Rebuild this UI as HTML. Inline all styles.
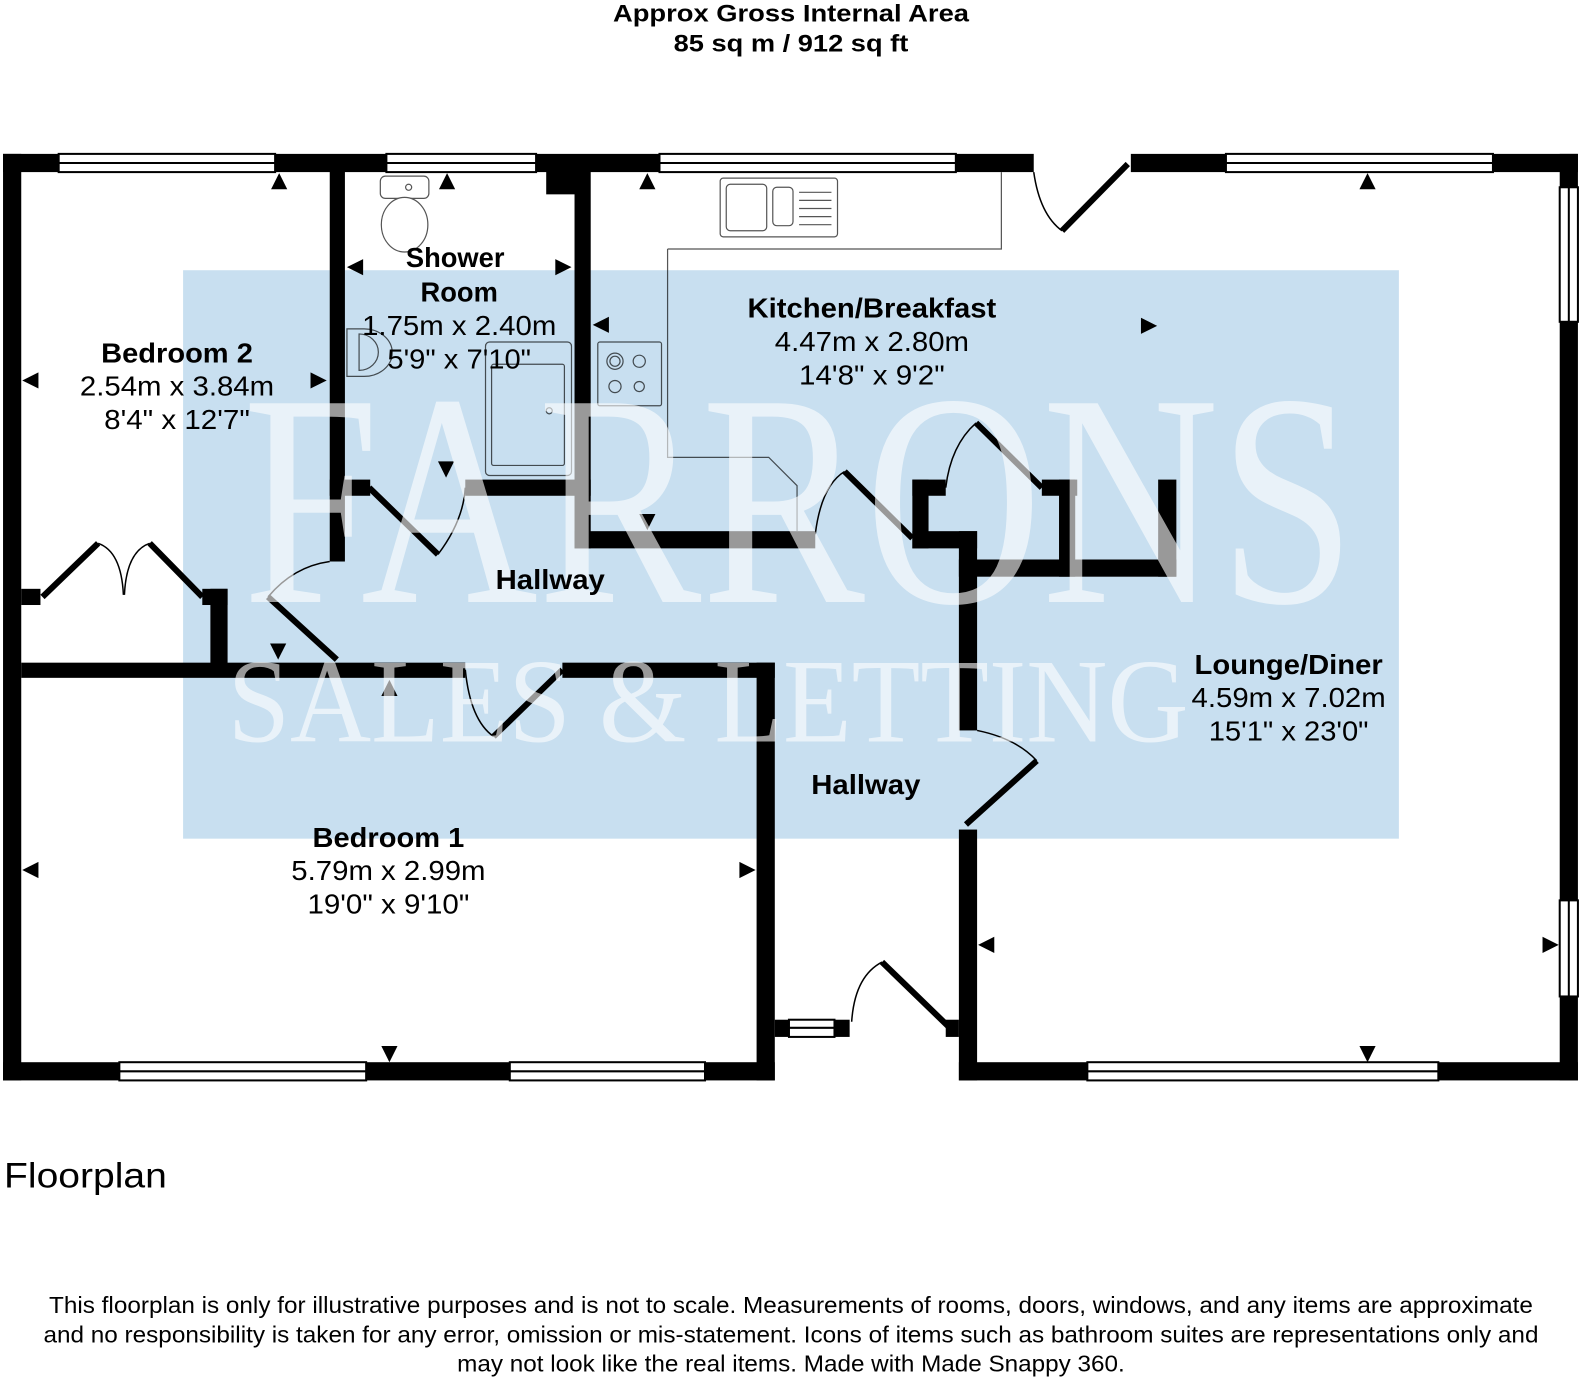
<!DOCTYPE html>
<html><head><meta charset="utf-8"><style>
html,body{margin:0;padding:0;background:#fff}
svg{display:block}
.s{font-family:"Liberation Sans",Arial,sans-serif}
.w{font-family:"Liberation Serif","DejaVu Serif",serif}
</style></head><body>
<svg width="1585" height="1384" viewBox="0 0 1567 1368" xmlns="http://www.w3.org/2000/svg">
<rect width="1567" height="1368" fill="#fff"/>
<g class="s">
<text x="782" y="21" text-anchor="middle" font-size="24" font-weight="bold" textLength="352" lengthAdjust="spacingAndGlyphs">Approx Gross Internal Area</text>
<text x="782" y="51" text-anchor="middle" font-size="24" font-weight="bold" textLength="232" lengthAdjust="spacingAndGlyphs">85 sq m / 912 sq ft</text>
</g>

<g fill="#000">
<rect x="3" y="152" width="1019" height="18"/>
<rect x="1118" y="152" width="442" height="18"/>
<rect x="3" y="152" width="18" height="916"/>
<rect x="1542" y="152" width="18" height="916"/>
<rect x="3" y="1050" width="763" height="18"/>
<rect x="948" y="1050" width="612" height="18"/>
<rect x="748" y="655" width="18" height="413"/>
<rect x="948" y="820" width="18" height="248"/>
<rect x="766" y="1008" width="74" height="17"/>
<rect x="935" y="1008" width="13" height="17"/>
<rect x="326" y="160" width="15" height="395"/>
<rect x="568" y="160" width="16" height="382"/>
<rect x="540" y="160" width="30" height="32"/>
<rect x="326" y="474" width="40" height="16"/>
<rect x="460" y="474" width="124" height="16"/>
<rect x="568" y="525" width="238" height="17"/>
<rect x="902" y="474" width="16" height="68"/>
<rect x="902" y="474" width="33" height="16"/>
<rect x="902" y="525" width="64" height="17"/>
<rect x="948" y="525" width="18" height="197"/>
<rect x="1030" y="474" width="35" height="16"/>
<rect x="1047" y="474" width="16" height="96"/>
<rect x="948" y="553" width="215" height="17"/>
<rect x="1145" y="474" width="18" height="96"/>
<rect x="21" y="655" width="439" height="15"/>
<rect x="556" y="655" width="210" height="15"/>
<rect x="21" y="582" width="19" height="16"/>
<rect x="200" y="582" width="25" height="16"/>
<rect x="208" y="582" width="17" height="80"/>
</g>

<g fill="#fff" stroke="#000" stroke-width="2">
<rect x="58" y="152" width="214" height="18"/><line x1="58" y1="161" x2="272" y2="161"/>
<rect x="382" y="152" width="148" height="18"/><line x1="382" y1="161" x2="530" y2="161"/>
<rect x="652" y="152" width="293" height="18"/><line x1="652" y1="161" x2="945" y2="161"/>
<rect x="1212" y="152" width="264" height="18"/><line x1="1212" y1="161" x2="1476" y2="161"/>
<rect x="118" y="1050" width="244" height="18"/><line x1="118" y1="1059" x2="362" y2="1059"/>
<rect x="504" y="1050" width="193" height="18"/><line x1="504" y1="1059" x2="697" y2="1059"/>
<rect x="1075" y="1050" width="347" height="18"/><line x1="1075" y1="1059" x2="1422" y2="1059"/>
<rect x="1542" y="185" width="18" height="133"/><line x1="1551" y1="185" x2="1551" y2="318"/>
<rect x="1542" y="890" width="18" height="95"/><line x1="1551" y1="890" x2="1551" y2="985"/>
<rect x="780" y="1008" width="45" height="17"/><line x1="780" y1="1016" x2="825" y2="1016"/>
</g>

<g stroke="#000" stroke-width="6" fill="none">
<line x1="1115" y1="162" x2="1050" y2="228"/>
<line x1="365" y1="482" x2="433" y2="548"/>
<line x1="265" y1="590" x2="333" y2="652"/>
<line x1="488" y1="728" x2="556" y2="662"/>
<line x1="835" y1="466" x2="902" y2="532"/>
<line x1="965" y1="418" x2="1030" y2="482"/>
<line x1="955" y1="815" x2="1025" y2="752"/>
<line x1="872" y1="951" x2="938" y2="1015"/>
<line x1="42" y1="590" x2="97" y2="537"/>
<line x1="200" y1="590" x2="148" y2="537"/>
</g>
<g stroke="#000" stroke-width="1.5" fill="none">
<path d="M1022 170 Q1028 212 1050 228"/>
<path d="M433 548 Q458 515 460 482"/>
<path d="M265 590 Q290 560 326 555"/>
<path d="M460 662 Q465 712 488 728"/>
<path d="M806 528 Q812 480 835 466"/>
<path d="M935 482 Q940 440 965 418"/>
<path d="M966 722 Q1005 730 1025 752"/>
<path d="M842 1010 Q845 965 872 951"/>
<path d="M97 537 Q120 545 122 588"/>
<path d="M148 537 Q125 545 123 588"/>
</g>

<g stroke="#555" stroke-width="1.2" fill="#fff">
<path d="M660 246 H990 V170 M660 246 V452 H760 L788 480 V525" fill="none"/>
<rect x="712" y="176" width="116" height="58" rx="3"/>
<rect x="718" y="182" width="40" height="46" rx="4"/>
<rect x="764" y="185" width="20" height="38" rx="4"/>
<g><line x1="790" y1="190" x2="822" y2="190"/><line x1="790" y1="198" x2="822" y2="198"/><line x1="790" y1="206" x2="822" y2="206"/><line x1="790" y1="214" x2="822" y2="214"/><line x1="790" y1="222" x2="822" y2="222"/></g>
<rect x="591" y="338" width="63" height="63" rx="2"/>
<circle cx="608" cy="357" r="8"/><circle cx="608" cy="357" r="5"/><circle cx="632" cy="357" r="6"/>
<circle cx="608" cy="382" r="6"/><circle cx="632" cy="382" r="5"/>
<rect x="480" y="338" width="85" height="132" rx="4"/>
<rect x="486" y="360" width="72" height="100" rx="2"/>
<circle cx="543" cy="406" r="3"/>
<rect x="376" y="174" width="48" height="22" rx="5"/>
<ellipse cx="400" cy="222" rx="23" ry="27"/>
<circle cx="404" cy="185" r="3"/>
<path d="M343 325 H360 A26 22 0 0 1 360 372 H343 Z"/>
<path d="M355 330 A18 17 0 0 1 355 366 Z"/>
</g>

<g fill="#000">
<polygon points="268,187 284,187 276,171"/>
<polygon points="434,187 450,187 442,171"/>
<polygon points="632,187 648,187 640,171"/>
<polygon points="1344,187 1360,187 1352,171"/>
<polygon points="343,264 359,256 359,272"/>
<polygon points="565,264 549,256 549,272"/>
<polygon points="586,321 602,313 602,329"/>
<polygon points="1144,322 1128,314 1128,330"/>
<polygon points="22,376 38,368 38,384"/>
<polygon points="323,376 307,368 307,384"/>
<polygon points="433,456 449,456 441,472"/>
<polygon points="632,508 648,508 640,524"/>
<polygon points="267,636 283,636 275,652"/>
<polygon points="377,688 393,688 385,672"/>
<polygon points="22,860 38,852 38,868"/>
<polygon points="747,860 731,852 731,868"/>
<polygon points="377,1034 393,1034 385,1050"/>
<polygon points="967,934 983,926 983,942"/>
<polygon points="1541,934 1525,926 1525,942"/>
<polygon points="1344,1034 1360,1034 1352,1050"/>
</g>

<rect x="181" y="267" width="1202" height="562" fill="#c8dff0" style="mix-blend-mode:multiply"/>
<g fill="#fff" fill-opacity="0.6" class="w">
<text x="790" y="595" text-anchor="middle" font-size="300" textLength="1100" lengthAdjust="spacingAndGlyphs" style="font-family:'Liberation Serif',serif">FARRONS</text>
<text x="700" y="733" text-anchor="middle" font-size="118" textLength="950" lengthAdjust="spacingAndGlyphs" style="font-family:'Liberation Serif',serif">SALES &amp; LETTING</text>
</g>

<g font-size="27" text-anchor="middle" fill="#000" class="s">
<text x="450" y="264" font-weight="bold">Shower</text>
<text x="454" y="298" font-weight="bold">Room</text>
<text x="454" y="331" textLength="192" lengthAdjust="spacingAndGlyphs">1.75m x 2.40m</text>
<text x="454" y="364" textLength="142" lengthAdjust="spacingAndGlyphs">5'9" x 7'10"</text>
<text x="862" y="314" font-weight="bold" textLength="246" lengthAdjust="spacingAndGlyphs">Kitchen/Breakfast</text>
<text x="862" y="347" textLength="192" lengthAdjust="spacingAndGlyphs">4.47m x 2.80m</text>
<text x="862" y="380" textLength="144" lengthAdjust="spacingAndGlyphs">14'8" x 9'2"</text>
<text x="175" y="358" font-weight="bold" textLength="150" lengthAdjust="spacingAndGlyphs">Bedroom 2</text>
<text x="175" y="391" textLength="192" lengthAdjust="spacingAndGlyphs">2.54m x 3.84m</text>
<text x="175" y="424" textLength="144" lengthAdjust="spacingAndGlyphs">8'4" x 12'7"</text>
<text x="544" y="582" font-weight="bold" textLength="108" lengthAdjust="spacingAndGlyphs">Hallway</text>
<text x="1274" y="666" font-weight="bold" textLength="186" lengthAdjust="spacingAndGlyphs">Lounge/Diner</text>
<text x="1274" y="699" textLength="192" lengthAdjust="spacingAndGlyphs">4.59m x 7.02m</text>
<text x="1274" y="732" textLength="158" lengthAdjust="spacingAndGlyphs">15'1" x 23'0"</text>
<text x="856" y="785" font-weight="bold" textLength="108" lengthAdjust="spacingAndGlyphs">Hallway</text>
<text x="384" y="837" font-weight="bold" textLength="150" lengthAdjust="spacingAndGlyphs">Bedroom 1</text>
<text x="384" y="870" textLength="192" lengthAdjust="spacingAndGlyphs">5.79m x 2.99m</text>
<text x="384" y="903" textLength="160" lengthAdjust="spacingAndGlyphs">19'0" x 9'10"</text>
</g>
<text x="4" y="1174" font-size="35" class="s" textLength="161" lengthAdjust="spacingAndGlyphs">Floorplan</text>
<g font-size="23" text-anchor="middle" class="s">
<text x="782" y="1298" textLength="1467" lengthAdjust="spacingAndGlyphs">This floorplan is only for illustrative purposes and is not to scale. Measurements of rooms, doors, windows, and any items are approximate</text>
<text x="782" y="1327" textLength="1478" lengthAdjust="spacingAndGlyphs">and no responsibility is taken for any error, omission or mis-statement. Icons of items such as bathroom suites are representations only and</text>
<text x="782" y="1356" textLength="660" lengthAdjust="spacingAndGlyphs">may not look like the real items. Made with Made Snappy 360.</text>
</g>
</svg>
</body></html>
